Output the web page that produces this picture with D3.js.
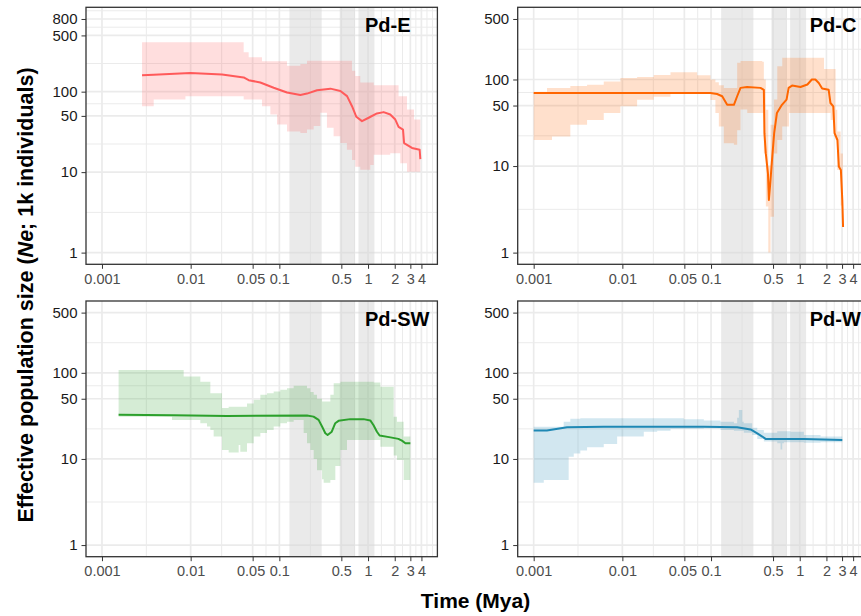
<!DOCTYPE html>
<html>
<head>
<meta charset="utf-8">
<script src="https://cdn.jsdelivr.net/npm/d3@7"></script>
<style>
  body { margin: 0; background: #fff; }
  svg { display: block; font-family: "Liberation Sans", Arial, Helvetica, sans-serif; }
</style>
</head>
<body>
<svg id="chart" width="861" height="616"></svg>
<script>
// ---- data ----
const xBreaks = [0.001, 0.01, 0.05, 0.1, 0.5, 1, 2, 3, 4];
const xLabels = ['0.001', '0.01', '0.05\u00a0', '0.1', '0.5', '1', '2', '3', '4'];
const yBreaksE = [1, 10, 50, 100, 500, 800];
const yBreaks = [1, 10, 50, 100, 500];
// shaded periods (Mya)
const bandStart = [0.13, 0.48, 0.78];
const bandEnd = [0.30, 0.71, 1.18];

// Pd-E
const eLineT = [0.00283, 0.00383, 0.00993, 0.0226, 0.0396, 0.0451, 0.061, 0.0863, 0.122, 0.1726, 0.205, 0.266, 0.376, 0.488, 0.58, 0.66, 0.738, 0.855, 1.016, 1.26, 1.50, 1.78, 2.03, 2.21, 2.48, 2.55, 3.13, 3.82, 3.89];
const eLineNe = [160, 162, 170, 163, 150, 139, 130, 112, 97.5, 91, 94.6, 104, 109, 102, 88, 66, 48.7, 43, 47.4, 53.6, 55.7, 52, 45, 36.5, 33.8, 23, 20, 19, 14.5];
const eRibT = [0.00283, 0.00383, 0.00873, 0.0226, 0.0396, 0.0451, 0.0637, 0.0792, 0.0941, 0.122, 0.1726, 0.205, 0.244, 0.290, 0.344, 0.409, 0.487, 0.578, 0.659, 0.718, 0.818, 1.06, 1.16, 1.78, 2.21, 2.31, 2.75, 3.3, 3.89];
const eRibHi = [412, 412, 412, 412, 309, 267, 238, 238, 238, 210, 220, 243, 243, 243, 243, 243, 243, 243, 182, 157, 130, 130, 120, 120, 88, 88, 60, 45, 35.5];
const eRibLo = [66, 80, 88, 88, 80, 80, 66, 52, 39, 32, 30.6, 33.8, 37.5, 54.6, 35.5, 27.9, 23, 19, 14.2, 11.7, 10.7, 12.3, 16.4, 17.2, 17.2, 12.9, 10.1, 10.1, 10.1];

// Pd-C
const cLineT = [0.001, 0.0986, 0.117, 0.1336, 0.152, 0.181, 0.197, 0.215, 0.2545, 0.361, 0.394, 0.40, 0.414, 0.438, 0.449, 0.465, 0.487, 0.515, 0.553, 0.63, 0.71, 0.75, 0.82, 1.02, 1.22, 1.37, 1.5, 1.64, 1.79, 2.12, 2.22, 2.39, 2.47, 2.66, 2.76, 2.91, 3.02, 3.08];
const cLineNe = [70, 70, 68, 64, 51, 51, 64, 80, 82, 80, 76, 24, 14.1, 8.25, 4.05, 6.3, 11.8, 24, 41, 51, 58.5, 80, 85, 82, 87.5, 100, 100, 91, 78.5, 76, 53.5, 49, 24, 20, 9.86, 9, 4.05, 1.98];
const cRibT = [0.001, 0.001414, 0.00161, 0.00259, 0.004, 0.00617, 0.0095, 0.01467, 0.0226, 0.0349, 0.0697, 0.0986, 0.112, 0.1224, 0.1394, 0.181, 0.197, 0.215, 0.256, 0.378, 0.394, 0.415, 0.442, 0.469, 0.512, 0.558, 0.635, 0.755, 1.58, 1.80, 1.88, 2.23, 2.43, 2.54, 2.65, 2.89, 3.07];
const cRibHi = [72, 80, 80, 84, 87, 95, 104, 107, 113, 121, 112, 100, 93, 86, 80, 80, 156, 163, 163, 160, 100, 44.8, 9.9, 30, 58.6, 142, 178, 178, 178, 178, 132, 132, 132, 44.8, 25, 14, 4];
const cRibLo = [20, 20, 22, 30, 34, 41, 49, 58.5, 63, 68, 68, 58, 41, 28.7, 18.4, 17.6, 26, 45, 41, 41, 14, 3.4, 1.0, 2.6, 14, 20, 28.7, 41, 41, 41, 41, 34, 22, 20, 9, 3.5, 1.8];

// Pd-SW
const swLineT = [0.00154, 0.00643, 0.0257, 0.205, 0.243, 0.277, 0.303, 0.33, 0.35, 0.39, 0.427, 0.465, 0.63, 0.89, 1.06, 1.15, 1.26, 1.35, 1.79, 2.2, 2.41, 2.64, 3.0];
const swLineNe = [32.5, 32.2, 31.6, 32, 31, 28.4, 23.8, 19.9, 19, 20.7, 26, 27.7, 29, 29, 28, 24.8, 20.7, 18.7, 17.8, 17.1, 16.3, 15.2, 15.2];
const swRibT = [0.00154, 0.00616, 0.00834, 0.01285, 0.01528, 0.01667, 0.01817, 0.02255, 0.02683, 0.03478, 0.0363, 0.0432, 0.0514, 0.0611, 0.0726, 0.0863, 0.1026, 0.122, 0.145, 0.188, 0.205, 0.224, 0.244, 0.266, 0.303, 0.316, 0.376, 0.410, 0.428, 0.488, 0.579, 1.159, 1.377, 1.945, 2.12, 2.52, 3.0];
const swRibHi = [108, 108, 90.7, 79, 79, 58, 58, 39, 40.5, 40.5, 40.5, 44, 48.6, 55.5, 58, 60.7, 63.5, 66, 70.6, 70.6, 66, 60, 55.5, 50, 46.4, 46.4, 55.5, 75.5, 75.5, 79, 79, 77, 69, 31, 27, 18.2, 18.2];
const swRibLo = [31, 28.4, 28.4, 26, 23.8, 21.7, 18.2, 12.7, 11.9, 14.5, 12.1, 15.2, 18.2, 20, 21.7, 23.8, 26, 27, 28.4, 20, 15.2, 12.7, 10, 7.4, 5.8, 5.3, 5.7, 5.7, 8.3, 12.7, 16.6, 16.6, 13.9, 11, 9.7, 5.7, 5.7];

// Pd-W
const wLineT = [0.001, 0.00141, 0.00238, 0.00617, 0.0829, 0.197, 0.279, 0.332, 0.378, 0.412, 0.558, 1.114, 3.02];
const wLineNe = [21.4, 21.4, 23.4, 23.7, 23.7, 23.4, 22, 19.8, 18.2, 17.1, 17, 17, 16.6];
const wRibT = [0.001, 0.0013, 0.00218, 0.00248, 0.00259, 0.00283, 0.00336, 0.004, 0.00617, 0.00873, 0.01744, 0.0247, 0.0349, 0.0493, 0.0829, 0.128, 0.181, 0.197, 0.206, 0.225, 0.234, 0.291, 0.332, 0.394, 0.558, 0.608, 0.635, 0.663, 0.789, 1.114, 1.718, 3.02];
const wRibHi = [23.7, 23.7, 27, 27, 29.2, 29.2, 29.6, 29.6, 29.6, 29.6, 29.6, 29.6, 29.6, 29, 28, 27, 26, 30, 37, 27, 26, 23, 21.7, 20.2, 21, 21, 21, 21, 20.7, 19, 18.2, 17.4];
const wRibLo = [5.3, 5.7, 5.7, 10.6, 10.6, 11.6, 12.5, 13.7, 14.9, 18.2, 20.7, 21.2, 22.3, 22.3, 22.6, 21.7, 21.2, 21.2, 21.2, 21.2, 20.2, 19, 17, 15.9, 15.2, 12.9, 15.2, 15.6, 15.6, 15.4, 15.6, 15.6];

const pops = [
  { name: 'Pd-E', color: '#ff5a5a', yBreaks: yBreaksE, lineT: eLineT, lineNe: eLineNe, ribT: eRibT, ribLo: eRibLo, ribHi: eRibHi },
  { name: 'Pd-C', color: '#ff6600', yBreaks: yBreaks, lineT: cLineT, lineNe: cLineNe, ribT: cRibT, ribLo: cRibLo, ribHi: cRibHi },
  { name: 'Pd-SW', color: '#2ca02c', yBreaks: yBreaks, lineT: swLineT, lineNe: swLineNe, ribT: swRibT, ribLo: swRibLo, ribHi: swRibHi },
  { name: 'Pd-W', color: '#1f88b4', yBreaks: yBreaks, lineT: wLineT, lineNe: wLineNe, ribT: wRibT, ribLo: wRibLo, ribHi: wRibHi },
];

// ---- layout ----
const layout = [
  { x0: 86, y0: 7.3, w: 351.4, h: 257, labelDx: 279 },
  { x0: 517.7, y0: 7.3, w: 351.4, h: 257, labelDx: 292 },
  { x0: 86, y0: 301, w: 351.4, h: 255.7, labelDx: 279 },
  { x0: 517.7, y0: 301, w: 351.4, h: 255.7, labelDx: 292 },
];

// ggplot-like 5% expansion on a log scale
function expandLog(lo, hi, frac) {
  const a = Math.log10(lo), b = Math.log10(hi), p = (b - a) * frac;
  return [Math.pow(10, a - p), Math.pow(10, b + p)];
}

// minor breaks: midpoints between majors in log space (plus extension past the ends)
function minorBreaks(breaks, domain) {
  const b = breaks.map(Math.log10);
  const lim = domain.map(Math.log10);
  if (lim[0] < b[0]) b.unshift(b[0] - (b[1] - b[0]));
  const n = b.length;
  if (lim[1] > b[n - 1]) b.push(b[n - 1] + (b[n - 1] - b[n - 2]));
  const out = [];
  for (let i = 0; i < b.length; i++) {
    if (i < b.length - 1) out.push((b[i] + b[i + 1]) / 2);
    if (i === 0 || i === b.length - 1) out.push(b[i]);
  }
  const major = breaks.map(Math.log10);
  return out
    .filter(v => v >= lim[0] && v <= lim[1])
    .filter(v => !major.some(m => Math.abs(m - v) < 1e-9))
    .map(v => Math.pow(10, v));
}

const svg = d3.select('#chart');
const xDomain = expandLog(xBreaks[0], xBreaks[xBreaks.length - 1], 0.05);
const gridColor = '#ebebeb';

pops.forEach((p, i) => {
  const L = layout[i];
  const x = d3.scaleLog().domain(xDomain).range([L.x0, L.x0 + L.w]);
  const yDomain = expandLog(p.yBreaks[0], p.yBreaks[p.yBreaks.length - 1], 0.05);
  const y = d3.scaleLog().domain(yDomain).range([L.y0 + L.h, L.y0]);

  const g = svg.append('g');
  const clipId = 'clip' + i;
  g.append('clipPath').attr('id', clipId)
    .append('rect').attr('x', L.x0).attr('y', L.y0).attr('width', L.w).attr('height', L.h);
  const inner = g.append('g').attr('clip-path', `url(#${clipId})`);

  // grid lines
  inner.selectAll('line.xminor').data(minorBreaks(xBreaks, xDomain)).join('line')
    .attr('x1', d => x(d)).attr('x2', d => x(d)).attr('y1', L.y0).attr('y2', L.y0 + L.h)
    .attr('stroke', gridColor).attr('stroke-width', 1);
  inner.selectAll('line.yminor').data(minorBreaks(p.yBreaks, yDomain)).join('line')
    .attr('y1', d => y(d)).attr('y2', d => y(d)).attr('x1', L.x0).attr('x2', L.x0 + L.w)
    .attr('stroke', gridColor).attr('stroke-width', 1);
  inner.selectAll('line.xmajor').data(xBreaks).join('line')
    .attr('x1', d => x(d)).attr('x2', d => x(d)).attr('y1', L.y0).attr('y2', L.y0 + L.h)
    .attr('stroke', gridColor).attr('stroke-width', 1.7);
  inner.selectAll('line.ymajor').data(p.yBreaks).join('line')
    .attr('y1', d => y(d)).attr('y2', d => y(d)).attr('x1', L.x0).attr('x2', L.x0 + L.w)
    .attr('stroke', gridColor).attr('stroke-width', 1.7);

  // shaded periods
  inner.selectAll('rect.band').data(bandStart.map((s, k) => [s, bandEnd[k]])).join('rect')
    .attr('x', d => x(d[0])).attr('width', d => x(d[1]) - x(d[0]))
    .attr('y', L.y0).attr('height', L.h)
    .attr('fill', '#d6d6d6').attr('fill-opacity', 0.5);

  // confidence ribbon
  const rib = p.ribT.map((t, k) => ({ t, lo: p.ribLo[k], hi: p.ribHi[k] }));
  inner.append('path').datum(rib)
    .attr('d', d3.area().x(d => x(d.t)).y0(d => y(d.lo)).y1(d => y(d.hi)).curve(d3.curveStepAfter))
    .attr('fill', p.color).attr('fill-opacity', 0.2);

  // median Ne line
  const line = p.lineT.map((t, k) => ({ t, v: p.lineNe[k] }));
  inner.append('path').datum(line)
    .attr('d', d3.line().x(d => x(d.t)).y(d => y(d.v)))
    .attr('fill', 'none').attr('stroke', p.color).attr('stroke-width', 2)
    .attr('stroke-linejoin', 'round');

  // panel border
  g.append('rect').attr('x', L.x0).attr('y', L.y0).attr('width', L.w).attr('height', L.h)
    .attr('fill', 'none').attr('stroke', '#333').attr('stroke-width', 1.3);

  // axes
  const xAxis = g.append('g').attr('transform', `translate(0,${L.y0 + L.h})`)
    .call(d3.axisBottom(x).tickValues(xBreaks).tickFormat((d, k) => xLabels[k]).tickSize(4.5).tickPadding(4.5));
  xAxis.select('.domain').remove();
  xAxis.selectAll('line').attr('stroke', '#333');
  xAxis.selectAll('text').attr('fill', '#4d4d4d').style('font-size', '14.5px')
    .style('font-family', '"Liberation Sans", Arial, sans-serif');

  const yAxis = g.append('g').attr('transform', `translate(${L.x0},0)`)
    .call(d3.axisLeft(y).tickValues(p.yBreaks).tickFormat(d3.format('d')).tickSize(4.5).tickPadding(4));
  yAxis.select('.domain').remove();
  yAxis.selectAll('line').attr('stroke', '#333');
  yAxis.selectAll('text').attr('fill', '#1a1a1a').style('font-size', '15px')
    .style('font-family', '"Liberation Sans", Arial, sans-serif');

  // population label
  g.append('text').attr('x', L.x0 + L.labelDx).attr('y', L.y0 + 24.5)
    .attr('font-size', 20).attr('font-weight', 'bold').attr('fill', '#000')
    .text(p.name);
});

// axis titles
svg.append('text').attr('x', 475.5).attr('y', 608)
  .attr('text-anchor', 'middle').attr('font-size', 21).attr('font-weight', 'bold')
  .text('Time (Mya)');

const yt = svg.append('text').attr('transform', 'translate(33,295) rotate(-90)')
  .attr('text-anchor', 'middle').attr('font-size', 21.5).attr('font-weight', 'bold');
yt.append('tspan').text('Effective population size (');
yt.append('tspan').attr('font-style', 'italic').text('N');
yt.append('tspan').attr('font-style', 'italic').text('e');
yt.append('tspan').text('; 1k individuals)');
</script>
</body>
</html>
